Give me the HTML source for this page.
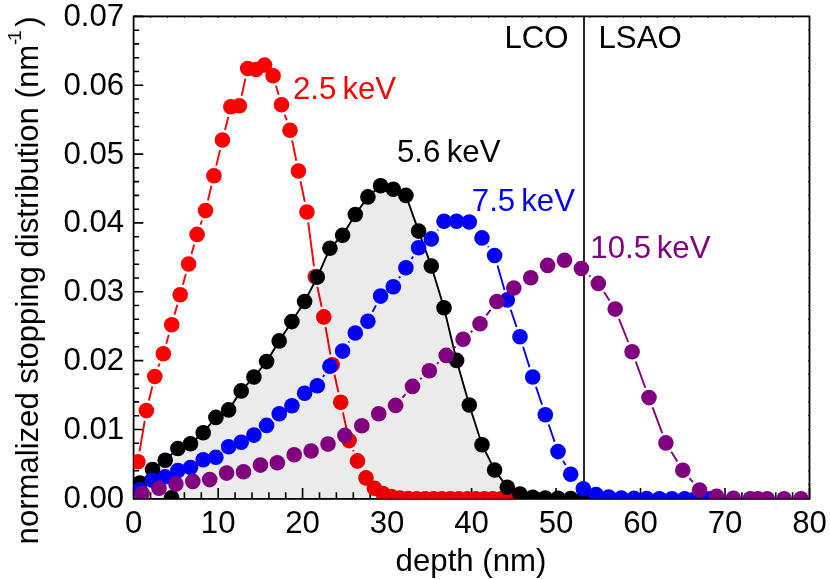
<!DOCTYPE html>
<html><head><meta charset="utf-8"><title>stopping profiles</title>
<style>
html,body{margin:0;padding:0;background:#fff;}
body{width:830px;height:579px;overflow:hidden;font-family:"Liberation Sans",sans-serif;}
svg{display:block;will-change:transform;}
text{font-family:"Liberation Sans",sans-serif;}
</style></head><body>
<svg width="830" height="579" viewBox="0 0 830 579" font-size="31.2">
<rect width="830" height="579" fill="#fff"/>
<defs><clipPath id="c"><rect x="133.7" y="16.4" width="675.8" height="482.1"/></clipPath></defs>

<path d="M133.7 498.3 v-10.3 M150.6 498.3 v-6 M167.5 498.3 v-6 M184.4 498.3 v-6 M201.3 498.3 v-6 M218.2 498.3 v-10.3 M235.1 498.3 v-6 M252 498.3 v-6 M268.9 498.3 v-6 M285.7 498.3 v-6 M302.6 498.3 v-10.3 M319.5 498.3 v-6 M336.4 498.3 v-6 M353.3 498.3 v-6 M370.2 498.3 v-6 M387.1 498.3 v-10.3 M404 498.3 v-6 M420.9 498.3 v-6 M437.8 498.3 v-6 M454.7 498.3 v-6 M471.6 498.3 v-10.3 M488.5 498.3 v-6 M505.4 498.3 v-6 M522.3 498.3 v-6 M539.2 498.3 v-6 M556 498.3 v-10.3 M572.9 498.3 v-6 M589.8 498.3 v-6 M606.7 498.3 v-6 M623.6 498.3 v-6 M640.5 498.3 v-10.3 M657.4 498.3 v-6 M674.3 498.3 v-6 M691.2 498.3 v-6 M708.1 498.3 v-6 M725 498.3 v-10.3 M741.9 498.3 v-6 M758.8 498.3 v-6 M775.7 498.3 v-6 M792.6 498.3 v-6 M809.5 498.3 v-10.3 M133.7 498.3 h9.6 M133.7 484.5 h5.4 M133.7 470.8 h5.4 M133.7 457 h5.4 M133.7 443.2 h5.4 M133.7 429.5 h9.6 M133.7 415.7 h5.4 M133.7 401.9 h5.4 M133.7 388.2 h5.4 M133.7 374.4 h5.4 M133.7 360.6 h9.6 M133.7 346.8 h5.4 M133.7 333.1 h5.4 M133.7 319.3 h5.4 M133.7 305.5 h5.4 M133.7 291.8 h9.6 M133.7 278 h5.4 M133.7 264.2 h5.4 M133.7 250.5 h5.4 M133.7 236.7 h5.4 M133.7 222.9 h9.6 M133.7 209.2 h5.4 M133.7 195.4 h5.4 M133.7 181.6 h5.4 M133.7 167.9 h5.4 M133.7 154.1 h9.6 M133.7 140.3 h5.4 M133.7 126.5 h5.4 M133.7 112.8 h5.4 M133.7 99 h5.4 M133.7 85.2 h9.6 M133.7 71.5 h5.4 M133.7 57.7 h5.4 M133.7 43.9 h5.4 M133.7 30.2 h5.4 M133.7 16.4 h9.6" stroke="#000" stroke-width="1.6" fill="none"/>
<path d="M150.6 16.4 v1.25 M167.5 16.4 v1.25 M184.4 16.4 v1.25 M201.3 16.4 v1.25 M218.2 16.4 v1.25 M235.1 16.4 v1.25 M252 16.4 v1.25 M268.9 16.4 v1.25 M285.7 16.4 v1.25 M302.6 16.4 v1.25 M319.5 16.4 v1.25 M336.4 16.4 v1.25 M353.3 16.4 v1.25 M370.2 16.4 v1.25 M387.1 16.4 v1.25 M404 16.4 v1.25 M420.9 16.4 v1.25 M437.8 16.4 v1.25 M454.7 16.4 v1.25 M471.6 16.4 v1.25 M488.5 16.4 v1.25 M505.4 16.4 v1.25 M522.3 16.4 v1.25 M539.2 16.4 v1.25 M556 16.4 v1.25 M572.9 16.4 v1.25 M589.8 16.4 v1.25 M606.7 16.4 v1.25 M623.6 16.4 v1.25 M640.5 16.4 v1.25 M657.4 16.4 v1.25 M674.3 16.4 v1.25 M691.2 16.4 v1.25 M708.1 16.4 v1.25 M725 16.4 v1.25 M741.9 16.4 v1.25 M758.8 16.4 v1.25 M775.7 16.4 v1.25 M792.6 16.4 v1.25 M809.5 484.5 h-1.25 M809.5 470.8 h-1.25 M809.5 457 h-1.25 M809.5 443.2 h-1.25 M809.5 429.5 h-1.25 M809.5 415.7 h-1.25 M809.5 401.9 h-1.25 M809.5 388.2 h-1.25 M809.5 374.4 h-1.25 M809.5 360.6 h-1.25 M809.5 346.8 h-1.25 M809.5 333.1 h-1.25 M809.5 319.3 h-1.25 M809.5 305.5 h-1.25 M809.5 291.8 h-1.25 M809.5 278 h-1.25 M809.5 264.2 h-1.25 M809.5 250.5 h-1.25 M809.5 236.7 h-1.25 M809.5 222.9 h-1.25 M809.5 209.2 h-1.25 M809.5 195.4 h-1.25 M809.5 181.6 h-1.25 M809.5 167.9 h-1.25 M809.5 154.1 h-1.25 M809.5 140.3 h-1.25 M809.5 126.5 h-1.25 M809.5 112.8 h-1.25 M809.5 99 h-1.25 M809.5 85.2 h-1.25 M809.5 71.5 h-1.25 M809.5 57.7 h-1.25 M809.5 43.9 h-1.25 M809.5 30.2 h-1.25" stroke="#000" stroke-width="1.2" fill="none"/>
<rect x="133.6" y="16.4" width="675.9" height="482.5" fill="none" stroke="#000" stroke-width="1.8"/>
<path d="M584 16.4 V498.3" stroke="#000" stroke-width="1.7"/>
<g clip-path="url(#c)">
<path d="M139.6 451.4L144.7 420.9M148.9 400.5L152.3 386.6M158.4 366.8L159.6 363.5M166.2 343.8L168.8 334.7M174.5 314.7L177.3 304.7M182.9 284.7L185.8 274.0M191.5 254.0L194.2 244.4M200.5 224.6L202.0 220.4M207.9 200.5L211.5 185.8M216.3 165.6L220.0 150.1M225.0 129.9L228.3 116.9M241.6 95.7L245.4 78.6M276.0 85.7L278.6 94.7M284.8 114.6L286.7 120.3M292.1 140.4L296.3 160.8M300.5 181.2L304.8 201.8M308.2 222.3L314.0 266.4M317.4 286.9L321.6 306.7M325.6 327.1L330.4 354.5M334.5 374.8L338.4 392.2M342.9 412.5L346.9 430.4M353.1 450.2L353.6 451.3" fill="none" stroke="#f00" stroke-width="1.9"/>
<circle cx="137.9" cy="461.7" r="7.8" fill="#f00"/>
<circle cx="146.4" cy="410.6" r="7.8" fill="#f00"/>
<circle cx="154.8" cy="376.5" r="7.8" fill="#f00"/>
<circle cx="163.3" cy="353.8" r="7.8" fill="#f00"/>
<circle cx="171.7" cy="324.7" r="7.8" fill="#f00"/>
<circle cx="180.2" cy="294.7" r="7.8" fill="#f00"/>
<circle cx="188.6" cy="264" r="7.8" fill="#f00"/>
<circle cx="197.1" cy="234.4" r="7.8" fill="#f00"/>
<circle cx="205.5" cy="210.6" r="7.8" fill="#f00"/>
<circle cx="213.9" cy="175.7" r="7.8" fill="#f00"/>
<circle cx="222.4" cy="140" r="7.8" fill="#f00"/>
<circle cx="230.8" cy="106.8" r="7.8" fill="#f00"/>
<circle cx="239.3" cy="105.8" r="7.8" fill="#f00"/>
<circle cx="247.7" cy="68.5" r="7.8" fill="#f00"/>
<circle cx="256.2" cy="69.5" r="7.8" fill="#f00"/>
<circle cx="264.6" cy="65" r="7.8" fill="#f00"/>
<circle cx="273.1" cy="75.7" r="7.8" fill="#f00"/>
<circle cx="281.5" cy="104.7" r="7.8" fill="#f00"/>
<circle cx="290" cy="130.2" r="7.8" fill="#f00"/>
<circle cx="298.4" cy="171" r="7.8" fill="#f00"/>
<circle cx="306.9" cy="212" r="7.8" fill="#f00"/>
<circle cx="315.3" cy="276.7" r="7.8" fill="#f00"/>
<circle cx="323.8" cy="316.9" r="7.8" fill="#f00"/>
<circle cx="332.2" cy="364.7" r="7.8" fill="#f00"/>
<circle cx="340.7" cy="402.3" r="7.8" fill="#f00"/>
<circle cx="349.1" cy="440.6" r="7.8" fill="#f00"/>
<circle cx="357.5" cy="460.9" r="7.8" fill="#f00"/>
<circle cx="366" cy="477.9" r="7.8" fill="#f00"/>
<circle cx="374.4" cy="488.3" r="7.8" fill="#f00"/>
<circle cx="382.9" cy="493.5" r="7.8" fill="#f00"/>
<circle cx="391.3" cy="496.6" r="7.8" fill="#f00"/>
<circle cx="399.8" cy="498" r="7.8" fill="#f00"/>
<circle cx="408.2" cy="498.5" r="7.8" fill="#f00"/>
<circle cx="416.7" cy="498.8" r="7.8" fill="#f00"/>
<circle cx="425.1" cy="498.8" r="7.8" fill="#f00"/>
<circle cx="433.6" cy="498.8" r="7.8" fill="#f00"/>
<circle cx="442" cy="498.8" r="7.8" fill="#f00"/>
<circle cx="450.5" cy="498.8" r="7.8" fill="#f00"/>
<circle cx="458.9" cy="498.8" r="7.8" fill="#f00"/>
<circle cx="467.4" cy="498.8" r="7.8" fill="#f00"/>
<circle cx="475.8" cy="498.8" r="7.8" fill="#f00"/>
<circle cx="484.3" cy="498.8" r="7.8" fill="#f00"/>
<circle cx="492.7" cy="498.8" r="7.8" fill="#f00"/>
<circle cx="501.1" cy="498.8" r="7.8" fill="#f00"/>
<circle cx="509.6" cy="498.8" r="7.8" fill="#f00"/>
<polygon points="139.9,498.3 139.9,483.1 152.5,469.6 165.2,460.3 177.9,448.5 190.5,443.7 203.2,432.7 215.9,417.4 228.6,409.9 241.2,390.9 253.9,377 266.6,361.6 279.2,340.9 291.9,321.6 304.6,301.5 317.3,277.1 329.9,248.3 342.6,235.2 355.3,214.5 367.9,196.9 380.6,185.7 393.3,189.2 405.9,195.4 418.6,231.1 431.3,266 444,307.8 456.6,360.4 469.3,405 482,444.7 494.6,470 507.3,487.2 520,494.1 532.7,497.3 545.3,498 558,498.3 570.7,498.6 583.3,498.7 583.3,498.3" fill="#000" fill-opacity="0.078"/>
<polyline points="139.9,483.1 152.5,469.6 165.2,460.3 177.9,448.5 190.5,443.7 203.2,432.7 215.9,417.4 228.6,409.9 241.2,390.9 253.9,377 266.6,361.6 279.2,340.9 291.9,321.6 304.6,301.5 317.3,277.1 329.9,248.3 342.6,235.2 355.3,214.5 367.9,196.9 380.6,185.7 393.3,189.2 405.9,195.4 418.6,231.1 431.3,266 444,307.8 456.6,360.4 469.3,405 482,444.7 494.6,470 507.3,487.2 520,494.1 532.7,497.3 545.3,498 558,498.3 570.7,498.6 583.3,498.7" fill="none" stroke="#000" stroke-width="1.9"/>
<circle cx="139.9" cy="483.1" r="7.8" fill="#000"/>
<circle cx="152.5" cy="469.6" r="7.8" fill="#000"/>
<circle cx="165.2" cy="460.3" r="7.8" fill="#000"/>
<circle cx="177.9" cy="448.5" r="7.8" fill="#000"/>
<circle cx="190.5" cy="443.7" r="7.8" fill="#000"/>
<circle cx="203.2" cy="432.7" r="7.8" fill="#000"/>
<circle cx="215.9" cy="417.4" r="7.8" fill="#000"/>
<circle cx="228.6" cy="409.9" r="7.8" fill="#000"/>
<circle cx="241.2" cy="390.9" r="7.8" fill="#000"/>
<circle cx="253.9" cy="377" r="7.8" fill="#000"/>
<circle cx="266.6" cy="361.6" r="7.8" fill="#000"/>
<circle cx="279.2" cy="340.9" r="7.8" fill="#000"/>
<circle cx="291.9" cy="321.6" r="7.8" fill="#000"/>
<circle cx="304.6" cy="301.5" r="7.8" fill="#000"/>
<circle cx="317.3" cy="277.1" r="7.8" fill="#000"/>
<circle cx="329.9" cy="248.3" r="7.8" fill="#000"/>
<circle cx="342.6" cy="235.2" r="7.8" fill="#000"/>
<circle cx="355.3" cy="214.5" r="7.8" fill="#000"/>
<circle cx="367.9" cy="196.9" r="7.8" fill="#000"/>
<circle cx="380.6" cy="185.7" r="7.8" fill="#000"/>
<circle cx="393.3" cy="189.2" r="7.8" fill="#000"/>
<circle cx="405.9" cy="195.4" r="7.8" fill="#000"/>
<circle cx="418.6" cy="231.1" r="7.8" fill="#000"/>
<circle cx="431.3" cy="266" r="7.8" fill="#000"/>
<circle cx="444" cy="307.8" r="7.8" fill="#000"/>
<circle cx="456.6" cy="360.4" r="7.8" fill="#000"/>
<circle cx="469.3" cy="405" r="7.8" fill="#000"/>
<circle cx="482" cy="444.7" r="7.8" fill="#000"/>
<circle cx="494.6" cy="470" r="7.8" fill="#000"/>
<circle cx="507.3" cy="487.2" r="7.8" fill="#000"/>
<circle cx="520" cy="494.1" r="7.8" fill="#000"/>
<circle cx="532.7" cy="497.3" r="7.8" fill="#000"/>
<circle cx="545.3" cy="498" r="7.8" fill="#000"/>
<circle cx="558" cy="498.3" r="7.8" fill="#000"/>
<circle cx="570.7" cy="498.6" r="7.8" fill="#000"/>
<circle cx="583.3" cy="498.7" r="7.8" fill="#000"/>
<circle cx="171.5" cy="497.7" r="7.8" fill="#000"/>
<path d="M322.9 377.0L324.3 374.9M348.6 342.6L349.3 341.5M372.6 311.9L375.9 305.4M399.0 278.1L400.2 276.5M411.5 259.0L413.1 256.5M437.4 230.5L437.9 229.7M488.0 246.3L488.6 247.1M497.5 265.5L504.5 289.9M510.7 309.7L516.6 327.0M523.1 346.7L529.5 367.1M536.0 386.9L542.0 404.8M548.7 424.5L554.6 441.8M563.1 460.7L565.6 465.1" fill="none" stroke="#00f" stroke-width="1.9"/>
<circle cx="139.9" cy="489.9" r="7.8" fill="#00f"/>
<circle cx="152.5" cy="480.2" r="7.8" fill="#00f"/>
<circle cx="165.2" cy="476.8" r="7.8" fill="#00f"/>
<circle cx="177.9" cy="470.5" r="7.8" fill="#00f"/>
<circle cx="190.5" cy="467.5" r="7.8" fill="#00f"/>
<circle cx="203.2" cy="459.7" r="7.8" fill="#00f"/>
<circle cx="215.9" cy="457.2" r="7.8" fill="#00f"/>
<circle cx="228.6" cy="446.8" r="7.8" fill="#00f"/>
<circle cx="241.2" cy="442.3" r="7.8" fill="#00f"/>
<circle cx="253.9" cy="435.1" r="7.8" fill="#00f"/>
<circle cx="266.6" cy="425.4" r="7.8" fill="#00f"/>
<circle cx="279.2" cy="413.7" r="7.8" fill="#00f"/>
<circle cx="291.9" cy="405.7" r="7.8" fill="#00f"/>
<circle cx="304.6" cy="393.3" r="7.8" fill="#00f"/>
<circle cx="317.3" cy="385.7" r="7.8" fill="#00f"/>
<circle cx="329.9" cy="366.2" r="7.8" fill="#00f"/>
<circle cx="342.6" cy="351.1" r="7.8" fill="#00f"/>
<circle cx="355.3" cy="333" r="7.8" fill="#00f"/>
<circle cx="367.9" cy="321.2" r="7.8" fill="#00f"/>
<circle cx="380.6" cy="296.1" r="7.8" fill="#00f"/>
<circle cx="393.3" cy="286.8" r="7.8" fill="#00f"/>
<circle cx="405.9" cy="267.8" r="7.8" fill="#00f"/>
<circle cx="418.6" cy="247.7" r="7.8" fill="#00f"/>
<circle cx="431.3" cy="238.9" r="7.8" fill="#00f"/>
<circle cx="444" cy="221.3" r="7.8" fill="#00f"/>
<circle cx="456.6" cy="221.3" r="7.8" fill="#00f"/>
<circle cx="469.3" cy="222" r="7.8" fill="#00f"/>
<circle cx="482" cy="237.9" r="7.8" fill="#00f"/>
<circle cx="494.6" cy="255.5" r="7.8" fill="#00f"/>
<circle cx="507.3" cy="299.9" r="7.8" fill="#00f"/>
<circle cx="520" cy="336.8" r="7.8" fill="#00f"/>
<circle cx="532.7" cy="377" r="7.8" fill="#00f"/>
<circle cx="545.3" cy="414.7" r="7.8" fill="#00f"/>
<circle cx="558" cy="451.6" r="7.8" fill="#00f"/>
<circle cx="570.7" cy="474.2" r="7.8" fill="#00f"/>
<circle cx="583.3" cy="488.7" r="7.8" fill="#00f"/>
<circle cx="596" cy="494.5" r="7.8" fill="#00f"/>
<circle cx="608.7" cy="497" r="7.8" fill="#00f"/>
<circle cx="621.3" cy="498" r="7.8" fill="#00f"/>
<circle cx="634" cy="498.3" r="7.8" fill="#00f"/>
<circle cx="646.7" cy="498.6" r="7.8" fill="#00f"/>
<circle cx="659.4" cy="498.8" r="7.8" fill="#00f"/>
<circle cx="672" cy="498.8" r="7.8" fill="#00f"/>
<circle cx="684.7" cy="498.8" r="7.8" fill="#00f"/>
<circle cx="697.4" cy="498.8" r="7.8" fill="#00f"/>
<circle cx="710" cy="498.8" r="7.8" fill="#00f"/>
<path d="M402.5 397.6L405.5 394.2M420.1 379.3L421.7 377.9M437.0 363.8L438.6 362.4M453.8 348.2L455.6 346.5M470.8 332.2L472.4 330.8M486.3 315.4L490.6 309.8M505.0 295.0L505.7 294.5M589.2 275.4L590.5 276.5M604.0 292.1L609.5 300.4M619.0 318.8L628.2 342.0M635.7 361.5L645.4 387.8M652.6 407.3L662.2 433.2M671.3 451.8L677.3 461.4M689.5 478.2L692.9 482.1" fill="none" stroke="#800080" stroke-width="1.9"/>
<circle cx="142.1" cy="493.5" r="7.8" fill="#800080"/>
<circle cx="159" cy="488.3" r="7.8" fill="#800080"/>
<circle cx="175.9" cy="484.1" r="7.8" fill="#800080"/>
<circle cx="192.8" cy="481.4" r="7.8" fill="#800080"/>
<circle cx="209.7" cy="479.6" r="7.8" fill="#800080"/>
<circle cx="226.6" cy="473.1" r="7.8" fill="#800080"/>
<circle cx="243.5" cy="471.7" r="7.8" fill="#800080"/>
<circle cx="260.4" cy="465.1" r="7.8" fill="#800080"/>
<circle cx="277.3" cy="462.8" r="7.8" fill="#800080"/>
<circle cx="294.2" cy="454.8" r="7.8" fill="#800080"/>
<circle cx="311.1" cy="451" r="7.8" fill="#800080"/>
<circle cx="328" cy="444.1" r="7.8" fill="#800080"/>
<circle cx="344.9" cy="435.4" r="7.8" fill="#800080"/>
<circle cx="361.8" cy="425.7" r="7.8" fill="#800080"/>
<circle cx="378.7" cy="413.7" r="7.8" fill="#800080"/>
<circle cx="395.6" cy="405.4" r="7.8" fill="#800080"/>
<circle cx="412.5" cy="386.4" r="7.8" fill="#800080"/>
<circle cx="429.3" cy="370.8" r="7.8" fill="#800080"/>
<circle cx="446.2" cy="355.4" r="7.8" fill="#800080"/>
<circle cx="463.1" cy="339.3" r="7.8" fill="#800080"/>
<circle cx="480" cy="323.7" r="7.8" fill="#800080"/>
<circle cx="496.9" cy="301.5" r="7.8" fill="#800080"/>
<circle cx="513.8" cy="288" r="7.8" fill="#800080"/>
<circle cx="530.7" cy="277.8" r="7.8" fill="#800080"/>
<circle cx="547.6" cy="265.4" r="7.8" fill="#800080"/>
<circle cx="564.5" cy="260.2" r="7.8" fill="#800080"/>
<circle cx="581.4" cy="268.5" r="7.8" fill="#800080"/>
<circle cx="598.3" cy="283.4" r="7.8" fill="#800080"/>
<circle cx="615.2" cy="309.1" r="7.8" fill="#800080"/>
<circle cx="632.1" cy="351.7" r="7.8" fill="#800080"/>
<circle cx="649" cy="397.6" r="7.8" fill="#800080"/>
<circle cx="665.9" cy="442.9" r="7.8" fill="#800080"/>
<circle cx="682.8" cy="470.3" r="7.8" fill="#800080"/>
<circle cx="699.6" cy="490" r="7.8" fill="#800080"/>
<circle cx="716.5" cy="496.2" r="7.8" fill="#800080"/>
<circle cx="733.4" cy="498.3" r="7.8" fill="#800080"/>
<circle cx="750.3" cy="498.7" r="7.8" fill="#800080"/>
<circle cx="767.2" cy="498.7" r="7.8" fill="#800080"/>
<circle cx="784.1" cy="498.7" r="7.8" fill="#800080"/>
<circle cx="801" cy="498.7" r="7.8" fill="#800080"/>
<circle cx="757.8" cy="498.8" r="7.8" fill="#800080"/>
</g>
<text x="133.7" y="532.6" text-anchor="middle">0</text>
<text x="218.2" y="532.6" text-anchor="middle">10</text>
<text x="302.6" y="532.6" text-anchor="middle">20</text>
<text x="387.1" y="532.6" text-anchor="middle">30</text>
<text x="471.6" y="532.6" text-anchor="middle">40</text>
<text x="556" y="532.6" text-anchor="middle">50</text>
<text x="640.5" y="532.6" text-anchor="middle">60</text>
<text x="725" y="532.6" text-anchor="middle">70</text>
<text x="809.5" y="532.6" text-anchor="middle">80</text>
<text x="124.1" y="507.8" text-anchor="end">0.00</text>
<text x="124.1" y="439" text-anchor="end">0.01</text>
<text x="124.1" y="370.1" text-anchor="end">0.02</text>
<text x="124.1" y="301.3" text-anchor="end">0.03</text>
<text x="124.1" y="232.4" text-anchor="end">0.04</text>
<text x="124.1" y="163.6" text-anchor="end">0.05</text>
<text x="124.1" y="94.7" text-anchor="end">0.06</text>
<text x="124.1" y="25.9" text-anchor="end">0.07</text>
<text x="471" y="570.5" text-anchor="middle">depth (nm)</text>
<text transform="translate(37.8 544.4) rotate(-90)" x="0" y="0" font-size="31.1">normalized stopping distribution (nm<tspan dy="-16.4" font-size="19">-</tspan><tspan dx="-2.4" font-size="19">1</tspan><tspan dy="16.4" dx="3.6">)</tspan></text>
<text x="504.5" y="48">LCO</text>
<text x="598.5" y="48">LSAO</text>
<text x="292.9" y="98.7" fill="#f00">2.5</text><text x="342.4" y="98.7" fill="#f00">keV</text>
<text x="397" y="162.1" fill="#000">5.6</text><text x="446.7" y="162.1" fill="#000">keV</text>
<text x="471.8" y="211.3" fill="#00f">7.5</text><text x="521.2" y="211.3" fill="#00f">keV</text>
<text x="590.3" y="257.7" fill="#800080">10.5</text><text x="656.7" y="257.7" fill="#800080">keV</text>
</svg></body></html>
